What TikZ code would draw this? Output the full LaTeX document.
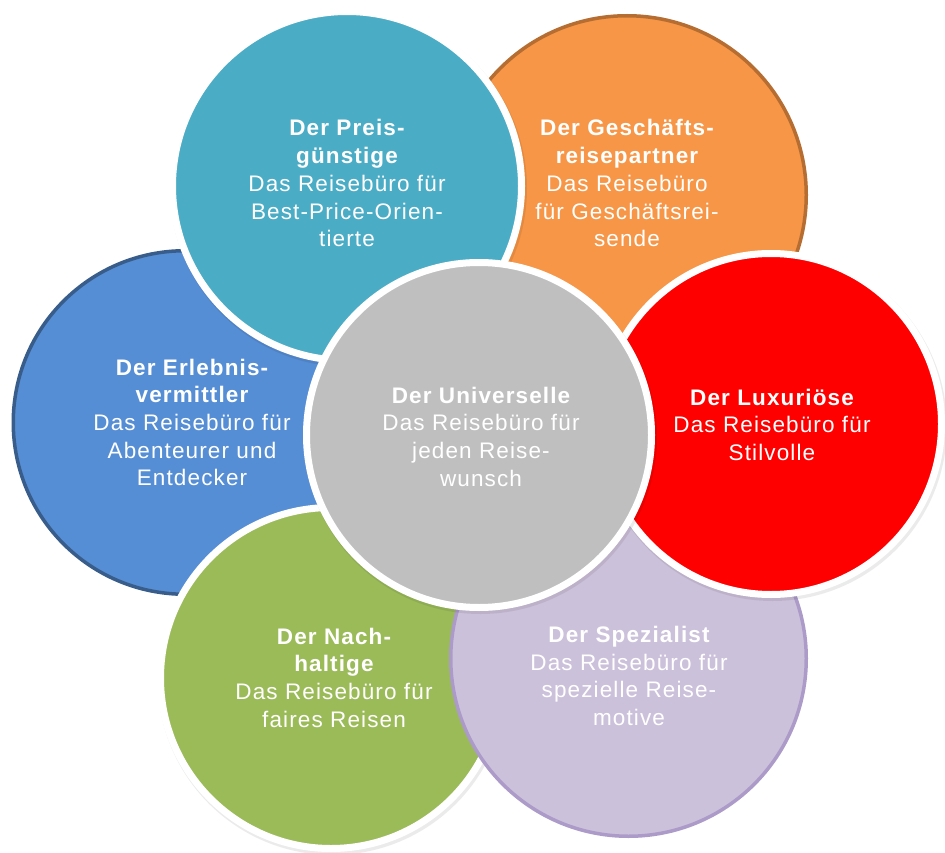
\documentclass[tikz,border=0pt]{standalone}
\usepackage{fontspec}
\setmainfont{Liberation Sans}[LetterSpace=5]
\definecolor{cteal}{HTML}{4BACC6}
\definecolor{corange}{HTML}{F79646}
\definecolor{corangeb}{HTML}{B66D31}
\definecolor{cred}{HTML}{FF0000}
\definecolor{clav}{HTML}{CCC1DA}
\definecolor{clavb}{HTML}{AC9BC8}
\definecolor{cgreen}{HTML}{9BBB59}
\definecolor{cblue}{HTML}{558ED5}
\definecolor{cblueb}{HTML}{385D8A}
\definecolor{cgray}{HTML}{BFBFBF}
\newcommand\ctext[1]{\vtop{\baselineskip=27.7pt\lineskip=0pt\lineskiplimit=-60pt\halign{\hfil##\hfil\cr#1\crcr}}}
\begin{document}
\begin{tikzpicture}[x=1pt,y=-1pt,
  ring/.style={circle, inner sep=0pt, outer sep=0pt, draw=white, line width=7pt},
  rim/.style={circle, inner sep=0pt, outer sep=0pt, line width=3.5pt},
  shade/.style={circle, inner sep=0pt, outer sep=0pt, fill=black, opacity=0.08},
  lbl/.style={anchor=base, inner sep=0pt, text=white, font=\fontsize{22.5}{27.7}\selectfont}]
\useasboundingbox (0,0) rectangle (945,853);
\fill[white] (0,0) rectangle (945,853);
% orange
\node[rim, fill=corange, draw=corangeb, minimum size=358.5pt] (orange) at (627,195) {};
% blue
\node[rim, fill=cblue, draw=cblueb, minimum size=343.5pt] (blue) at (185,422.5) {};
% green
\node[shade, minimum size=349pt] (greensh) at (332.5,680.5) {};
\node[ring, fill=cgreen, minimum size=341pt] (green) at (331,678) {};
% lavender
\node[rim, fill=clav, draw=clavb, minimum size=355.5pt] (lav) at (628.5,658.5) {};
% teal
\node[shade, minimum size=357pt] (tealsh) at (348.5,188.5) {};
\node[ring, fill=cteal, minimum size=349pt] (teal) at (347,186) {};
% red
\node[shade, minimum size=349pt] (redsh) at (772.5,426.5) {};
\node[ring, fill=cred, minimum size=341pt] (red) at (771,424) {};
% gray centre
\node[shade, minimum size=353pt] (graysh) at (480.5,437.5) {};
\node[ring, fill=cgray, minimum size=345pt] (gray) at (479,435) {};
% texts
\node[lbl] (tealt) at (347,136) {\ctext{\bfseries Der Preis-\cr\bfseries günstige\cr Das Reisebüro für\cr Best-Price-Orien-\cr tierte}};
\node[lbl] (oranget) at (627,136) {\ctext{\bfseries Der Geschäfts-\cr\bfseries reisepartner\cr Das Reisebüro\cr für Geschäftsrei-\cr sende}};
\node[lbl] (bluet) at (192,375) {\ctext{\bfseries Der Erlebnis-\cr\bfseries vermittler\cr Das Reisebüro für\cr Abenteurer und\cr Entdecker}};
\node[lbl] (grayt) at (481,403) {\ctext{\bfseries Der Universelle\cr Das Reisebüro für\cr jeden Reise-\cr wunsch}};
\node[lbl] (redt) at (772,405) {\ctext{\bfseries Der Luxuriöse\cr Das Reisebüro für\cr Stilvolle}};
\node[lbl] (greent) at (334,644) {\ctext{\bfseries Der Nach-\cr\bfseries haltige\cr Das Reisebüro für\cr faires Reisen}};
\node[lbl] (lavt) at (629,642.5) {\ctext{\bfseries Der Spezialist\cr Das Reisebüro für\cr spezielle Reise-\cr motive}};
\end{tikzpicture}
\end{document}
